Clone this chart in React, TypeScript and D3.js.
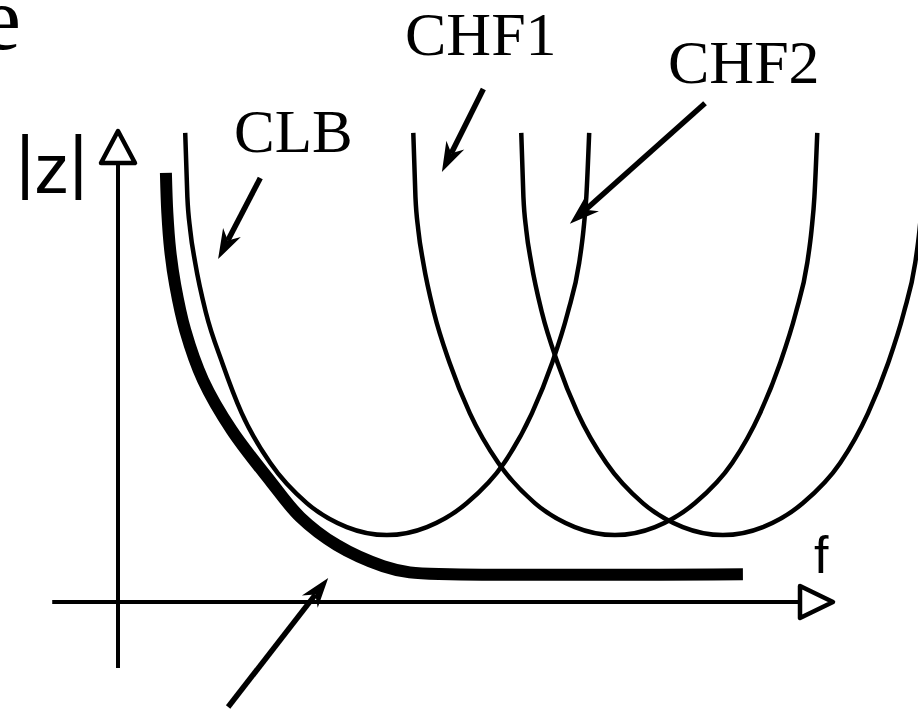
import React, { useRef, useEffect } from "react";
import { select, scaleLinear, line, curveMonotoneX, curveCatmullRom } from "d3";

// f readings along each resonance dip (arbitrary units, 0..10 = axis)
const clbF = [0.94, 0.97, 1.01, 1.08, 1.23, 1.46, 1.73, 2.13, 2.64, 3.2, 3.76, 4.32, 4.88, 5.4, 5.79, 6.07, 6.29, 6.45, 6.51, 6.55, 6.59];
const chf1F = [4.13, 4.16, 4.2, 4.27, 4.42, 4.64, 4.92, 5.32, 5.83, 6.39, 6.95, 7.51, 8.07, 8.59, 8.98, 9.26, 9.48, 9.64, 9.7, 9.74, 9.78];
const chf2F = [5.64, 5.67, 5.71, 5.78, 5.93, 6.15, 6.43, 6.83, 7.34, 7.9, 8.46, 9.02, 9.58, 10.1, 10.49, 10.77, 10.99, 11.15, 11.21, 11.25, 11.29];
// |z| readings, the three dips have the same depth
const dipZ = [9.96, 8.6, 7.9, 7.2, 6.14, 5.07, 4.01, 2.95, 2.1, 1.59, 1.42, 1.59, 2.1, 2.95, 4.01, 5.07, 6.14, 7.2, 7.9, 8.6, 9.96];

// combined impedance (thick curve)
const totalF = [0.67, 0.69, 0.73, 0.8, 0.94, 1.19, 1.59, 2.13, 2.55, 3.06, 3.71, 4.08, 4.64, 8.74];
const totalZ = [9.11, 8.26, 7.47, 6.73, 5.77, 4.71, 3.65, 2.57, 1.8, 1.21, 0.76, 0.63, 0.59, 0.59];

// pointer arrows: CLB, CHF1, CHF2, bottom one
const arrowFromF = [1.99, 5.11, 8.21, 1.54];
const arrowFromZ = [9.0, 10.89, 10.59, -2.23];
const arrowToF = [1.4, 4.53, 6.32, 2.94];
const arrowToZ = [7.28, 9.13, 8.03, 0.51];

const labels = ["CLB", "CHF1", "CHF2"];

function App() {
  const svgRef = useRef<SVGSVGElement>(null);

  useEffect(() => {
    const svg = select(svgRef.current);
    svg.selectAll("*").remove();

    const x = scaleLinear().domain([0, 10]).range([118, 833]);
    const y = scaleLinear().domain([0, 10]).range([602, 131]);

    const dipPath = line<[number, number]>()
      .x((d) => x(d[0]))
      .y((d) => y(d[1]))
      .curve(curveMonotoneX);
    const totalPath = line<[number, number]>()
      .x((d) => x(d[0]))
      .y((d) => y(d[1]))
      .curve(curveCatmullRom.alpha(0.5));

    //axes with open triangle heads
    const headLen = 33;
    const headW = 16;
    svg.append("line")
      .attr("x1", x(-0.92)).attr("y1", y(0))
      .attr("x2", x(10) - headLen).attr("y2", y(0))
      .attr("stroke", "#000").attr("stroke-width", 4);
    svg.append("path")
      .attr("d", `M${x(10) - headLen},${y(0) - headW}L${x(10)},${y(0)}L${x(10) - headLen},${y(0) + headW}Z`)
      .attr("fill", "#fff").attr("stroke", "#000").attr("stroke-width", 4.5)
      .attr("stroke-linejoin", "round");
    svg.append("line")
      .attr("x1", x(0)).attr("y1", y(-1.4))
      .attr("x2", x(0)).attr("y2", y(10) + headLen - 1)
      .attr("stroke", "#000").attr("stroke-width", 4);
    svg.append("path")
      .attr("d", `M${x(0) - headW - 1},${y(10) + headLen - 1}L${x(0)},${y(10)}L${x(0) + headW + 1},${y(10) + headLen - 1}Z`)
      .attr("fill", "#fff").attr("stroke", "#000").attr("stroke-width", 4.5)
      .attr("stroke-linejoin", "round");

    // resonance dips
    [clbF, chf1F, chf2F].forEach((fs) => {
      svg.append("path")
        .attr("d", dipPath(fs.map((f, i) => [f, dipZ[i]] as [number, number])))
        .attr("fill", "none").attr("stroke", "#000").attr("stroke-width", 4.5);
    });

    // thick combined curve
    svg.append("path")
      .attr("d", totalPath(totalF.map((f, i) => [f, totalZ[i]] as [number, number])))
      .attr("fill", "none").attr("stroke", "#000").attr("stroke-width", 12);

    // pointer arrows
    arrowFromF.forEach((f, i) => {
      const x0 = x(f), y0 = y(arrowFromZ[i]);
      const x1 = x(arrowToF[i]), y1 = y(arrowToZ[i]);
      const len = Math.hypot(x1 - x0, y1 - y0);
      const ux = (x1 - x0) / len, uy = (y1 - y0) / len;
      const nx = -uy, ny = ux;
      const hl = 30, hw = 10, notch = 21;
      svg.append("line")
        .attr("x1", x0).attr("y1", y0)
        .attr("x2", x1 - ux * notch).attr("y2", y1 - uy * notch)
        .attr("stroke", "#000").attr("stroke-width", 5.5);
      svg.append("path")
        .attr("d",
          `M${x1},${y1}` +
          `L${x1 - ux * hl + nx * hw},${y1 - uy * hl + ny * hw}` +
          `L${x1 - ux * notch},${y1 - uy * notch}` +
          `L${x1 - ux * hl - nx * hw},${y1 - uy * hl - ny * hw}Z`)
        .attr("fill", "#000");
    });

    // labels
    const serif = "'Liberation Serif', 'Times New Roman', serif";
    const sans = "'Liberation Sans', Arial, sans-serif";
    const labelX = [234, 405, 668];
    const labelY = [152, 55, 83];
    const labelSize = [61, 62, 62];
    labels.forEach((t, i) => {
      svg.append("text")
        .attr("x", labelX[i]).attr("y", labelY[i])
        .attr("font-family", serif).attr("font-size", labelSize[i])
        .text(t);
    });
    svg.append("text")
      .attr("x", 21).attr("y", 49)
      .attr("text-anchor", "end")
      .attr("font-family", serif).attr("font-size", 90)
      .text("e");
    // |z| with the bars sitting a bit higher than the letter
    const zLabel = svg.append("text")
      .attr("x", 16).attr("y", 185)
      .attr("font-family", sans).attr("font-size", 70);
    zLabel.append("tspan").text("|");
    zLabel.append("tspan").attr("dy", 8).text("z");
    zLabel.append("tspan").attr("dy", -8).text("|");
    svg.append("text")
      .attr("x", 814).attr("y", 573)
      .attr("font-family", sans).attr("font-size", 52)
      .text("f");
  }, []);

  return (
    <React.Fragment>
      <style>{`body{margin:0;background:#fff}`}</style>
      <svg ref={svgRef} width={918} height={709} style={{ display: "block" }} />
    </React.Fragment>
  );
}

export default App;
